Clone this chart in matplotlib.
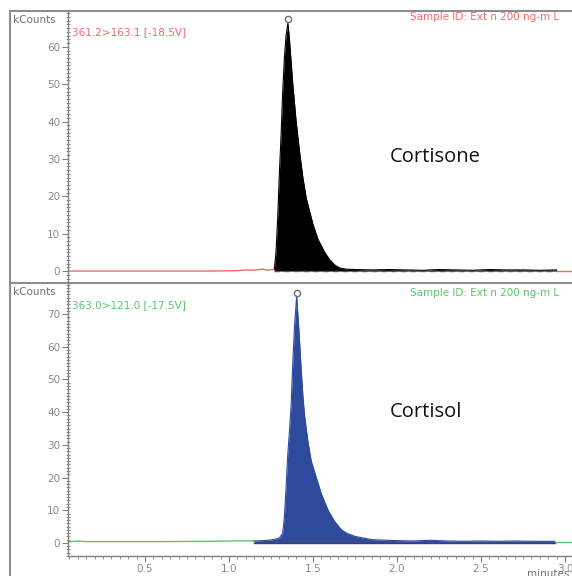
import numpy as np
import matplotlib
matplotlib.use('Agg')
import matplotlib.pyplot as plt
from matplotlib.lines import Line2D
from matplotlib.ticker import MultipleLocator

# cortisone trace, 361.2>163.1 (kCounts vs minutes)
cortisone_base_t = [0.04, 0.30, 0.60, 0.90, 1.05, 1.10, 1.15, 1.20, 1.23, 1.25, 1.27]
cortisone_base_y = [0.0, 0.0, 0.0, 0.0, 0.1, 0.3, 0.2, 0.5, 0.2, 0.4, 0.4]
cortisone_peak_t = [1.27, 1.28, 1.29, 1.30, 1.31, 1.32, 1.33, 1.34, 1.351, 1.36, 1.37, 1.38,
                    1.40, 1.42, 1.44, 1.46, 1.48, 1.50, 1.53, 1.57, 1.60, 1.63, 1.66, 1.70,
                    1.75, 1.85, 1.95, 2.05, 2.15, 2.25, 2.35, 2.45, 2.55, 2.65, 2.75, 2.85, 2.95]
cortisone_peak_y = [0.5, 5, 14, 26, 36, 48, 57, 63, 66.3, 62, 56, 50,
                    40, 32, 25, 19.5, 16, 12.5, 8.5, 5, 3, 1.6, 0.8, 0.5,
                    0.4, 0.3, 0.4, 0.3, 0.2, 0.4, 0.3, 0.2, 0.4, 0.3, 0.3, 0.2, 0.3]
cortisone_end_t = [2.95, 3.04]
cortisone_end_y = [0.1, 0.1]

# cortisol trace, 363.0>121.0
cortisol_base_t = [0.04, 0.10, 0.15, 0.30, 0.60, 0.90, 1.00, 1.15]
cortisol_base_y = [0.3, 0.6, 0.4, 0.4, 0.4, 0.5, 0.6, 0.6]
cortisol_peak_t = [1.15, 1.20, 1.25, 1.28, 1.30, 1.32, 1.33, 1.34, 1.35, 1.36, 1.37, 1.38,
                   1.39, 1.403, 1.41, 1.42, 1.43, 1.44, 1.45, 1.47, 1.49, 1.52, 1.55, 1.59,
                   1.63, 1.67, 1.70, 1.75, 1.80, 1.85, 1.90, 2.00, 2.10, 2.20, 2.30, 2.40,
                   2.50, 2.60, 2.70, 2.80, 2.94]
cortisol_peak_y = [0.6, 0.7, 0.9, 1.2, 1.5, 3, 8, 17, 27, 34, 42, 55,
                   66, 75.5, 70, 62, 53, 45, 39, 31, 25, 20, 15, 10,
                   6.5, 4, 3, 2, 1.5, 1.0, 0.9, 0.7, 0.6, 0.8, 0.6, 0.5,
                   0.6, 0.5, 0.6, 0.5, 0.5]
cortisol_end_t = [2.94, 3.04]
cortisol_end_y = [0.3, 0.3]

W, H = 572, 576
fig = plt.figure(figsize=(W / 100, H / 100), dpi=100)
fig.patch.set_facecolor('white')

grey = '#808080'
label_grey = '#8a8a8a'


def fx(px):
    return px / W


def fy(py):
    return 1 - py / H


def setup_axes(ax, ylim, yticks, show_x):
    ax.set_xlim(0.042, 3.042)
    ax.set_ylim(*ylim)
    ax.set_facecolor('none')
    for side in ['top', 'right']:
        ax.spines[side].set_visible(False)
    ax.spines['left'].set_color(grey)
    ax.spines['left'].set_linewidth(1.0)
    ax.yaxis.set_major_locator(MultipleLocator(yticks))
    ax.yaxis.set_minor_locator(MultipleLocator(1))
    ax.tick_params(axis='y', which='major', direction='out', length=4, color=grey,
                   labelsize=7.5, labelcolor=label_grey, pad=1.5)
    ax.tick_params(axis='y', which='minor', direction='inout', length=3, width=0.6, color=grey)
    if show_x:
        ax.spines['bottom'].set_color(grey)
        ax.spines['bottom'].set_linewidth(1.0)
        ax.xaxis.set_major_locator(MultipleLocator(0.5))
        ax.xaxis.set_minor_locator(MultipleLocator(0.05))
        ax.tick_params(axis='x', which='major', direction='out', length=4, color=grey,
                       labelsize=7.5, labelcolor=label_grey, pad=1.5)
        ax.tick_params(axis='x', which='minor', direction='out', length=2.5, width=0.6, color=grey)
        ax.set_xticks([0.5, 1.0, 1.5, 2.0, 2.5, 3.0])
        ax.set_xticklabels(['0.5', '1.0', '1.5', '2.0', '2.5', '3.0'])
    else:
        ax.spines['bottom'].set_visible(False)
        ax.tick_params(axis='x', which='both', bottom=False, labelbottom=False)
    ax.set_yticks([t for t in ax.get_yticks() if t >= 0 and t <= ylim[1] - 3])


# top panel: cortisone
ax1 = fig.add_axes([fx(68), fy(283), fx(W - 68), fy(12) - fy(283)])
setup_axes(ax1, (-3.2, 69.3), 10, False)
red = '#f06a6a'
ax1.plot(cortisone_base_t, cortisone_base_y, color=red, lw=1.0)
ax1.fill_between(cortisone_peak_t, 0, cortisone_peak_y, color='black', lw=0)
ax1.plot(cortisone_peak_t, cortisone_peak_y, color='black', lw=0.8)
ax1.plot([cortisone_peak_t[0], cortisone_peak_t[-1]], [0, 0], color='#555555', lw=1.0,
         dashes=(4, 3))
ax1.plot(cortisone_end_t, cortisone_end_y, color=red, lw=1.0)
i1 = int(np.argmax(cortisone_peak_y))
ax1.plot(cortisone_peak_t[i1], cortisone_peak_y[i1] + 1.0, 'o', ms=4.5, mfc='none',
         mec='#707070', mew=1.0)

# bottom panel: cortisol
ax2 = fig.add_axes([fx(68), fy(556), fx(W - 68), fy(284) - fy(556)])
setup_axes(ax2, (-4.0, 79.2), 10, True)
green = '#5cc46e'
blue = '#2e4a9c'
ax2.plot(cortisol_base_t, cortisol_base_y, color=green, lw=1.0)
ax2.fill_between(cortisol_peak_t, 0, cortisol_peak_y, color=blue, lw=0)
ax2.plot(cortisol_peak_t, cortisol_peak_y, color=blue, lw=0.8)
ax2.plot([cortisol_peak_t[0], cortisol_peak_t[-1]], [0, 0], color='#444444', lw=1.0)
ax2.plot(cortisol_end_t, cortisol_end_y, color=green, lw=1.0)
i2 = int(np.argmax(cortisol_peak_y))
ax2.plot(cortisol_peak_t[i2], cortisol_peak_y[i2] + 1.0, 'o', ms=4.5, mfc='none',
         mec='#707070', mew=1.0)

# frame lines of the report
frame = dict(color='#8c8c8c', lw=1.5, transform=fig.transFigure)
fig.add_artist(Line2D([fx(10), 1], [fy(11), fy(11)], **frame))
fig.add_artist(Line2D([fx(10), 1], [fy(282.5), fy(282.5)], **frame))
fig.add_artist(Line2D([fx(10), fx(10)], [fy(11), 0], **frame))

# texts
small = dict(fontsize=7.5, va='center')
fig.text(fx(13), fy(20), 'kCounts', color='#707070', ha='left', **small)
fig.text(fx(13), fy(292), 'kCounts', color='#707070', ha='left', **small)
fig.text(fx(72), fy(32), '361.2>163.1 [-18.5V]', color=red, ha='left', **small)
fig.text(fx(559), fy(17), 'Sample ID: Ext n 200 ng-m L', color=red, ha='right', **small)
fig.text(fx(72), fy(305), '363.0>121.0 [-17.5V]', color=green, ha='left', **small)
fig.text(fx(559), fy(293), 'Sample ID: Ext n 200 ng-m L', color=green, ha='right', **small)
fig.text(fx(527), fy(574), 'minutes', color='#707070', ha='left', **small)

fig.text(fx(390), fy(157), 'Cortisone', fontsize=14.5, family='Open Sans', color='#111111',
         ha='left', va='center')
fig.text(fx(390), fy(412), 'Cortisol', fontsize=14.5, family='Open Sans', color='#111111',
         ha='left', va='center')

fig.savefig('out.png', dpi=100)
